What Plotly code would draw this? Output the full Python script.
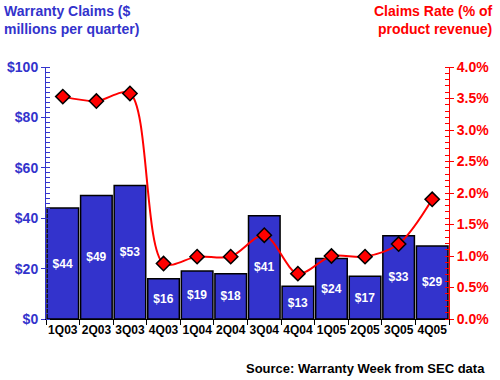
import plotly.graph_objects as go

quarters = ["1Q03", "2Q03", "3Q03", "4Q03", "1Q04", "2Q04", "3Q04", "4Q04", "1Q05", "2Q05", "3Q05", "4Q05"]
claims = [44, 49, 53, 16, 19, 18, 41, 13, 24, 17, 33, 29]
rate = [3.53, 3.46, 3.58, 0.88, 0.99, 0.99, 1.33, 0.72, 1.0, 0.99, 1.19, 1.90]

BLUE = "#3333cc"
RED = "#ff0000"
FONT = "Liberation Sans, Arial, sans-serif"

fig = go.Figure()
fig.add_trace(go.Bar(
    x=quarters, y=claims,
    marker=dict(color=BLUE, line=dict(color="black", width=1.5)),
    text=[f"${v}" for v in claims], textposition="inside", insidetextanchor="middle",
    textangle=0,
    textfont=dict(color="white", size=12, family=FONT, weight="bold"),
    yaxis="y", showlegend=False, hoverinfo="skip",
))
fig.add_trace(go.Scatter(
    x=quarters, y=rate, mode="lines+markers",
    line=dict(color=RED, width=2, shape="spline", smoothing=0.9),
    marker=dict(symbol="diamond", size=11, color=RED, line=dict(color="black", width=1.5)),
    yaxis="y2", showlegend=False, hoverinfo="skip", cliponaxis=False,
))

fig.update_layout(
    width=500, height=380,
    margin=dict(l=46, r=51, t=67, b=61),
    paper_bgcolor="white", plot_bgcolor="white",
    bargap=0.06,
    font=dict(family=FONT),
    xaxis=dict(
        automargin=False, tickangle=0, range=[-0.5, len(quarters) - 0.5],
        showgrid=False, showline=True, linecolor="black", linewidth=1,
        ticks="outside", tickson="boundaries", ticklen=5, tickcolor="black",
        tickfont=dict(size=12, color="black", family=FONT, weight="bold"),
    ),
    yaxis=dict(
        automargin=False,
        range=[0, 100], dtick=20, tickprefix="$",
        showgrid=False, zeroline=False, showline=True, linecolor=BLUE, linewidth=1,
        ticks="outside", ticklen=4, tickcolor=BLUE,
        minor=dict(dtick=2, ticks="inside", ticklen=4, tickcolor=BLUE),
        tickfont=dict(size=14, color=BLUE, family=FONT, weight="bold"),
    ),
    yaxis2=dict(
        automargin=False,
        range=[0, 4], dtick=0.5, tickformat=".1f", ticksuffix="%",
        overlaying="y", side="right",
        showgrid=False, zeroline=False, showline=True, linecolor=RED, linewidth=1,
        ticks="outside", ticklen=4, tickcolor=RED,
        minor=dict(dtick=0.1, ticks="inside", ticklen=4, tickcolor=RED),
        tickfont=dict(size=14, color=RED, family=FONT, weight="bold"),
    ),
    annotations=[
        dict(text="Warranty Claims ($<br>millions per quarter)", xref="paper", yref="paper",
             x=-44/403, y=1 + 66/252, xanchor="left", yanchor="top", align="left", showarrow=False,
             font=dict(size=14, color=BLUE, family=FONT, weight="bold")),
        dict(text="Claims Rate (% of<br>product revenue)", xref="paper", yref="paper",
             x=1 + 46/403, y=1 + 66/252, xanchor="right", yanchor="top", align="right", showarrow=False,
             font=dict(size=14, color=RED, family=FONT, weight="bold")),
        dict(text="Source: Warranty Week from SEC data", xref="paper", yref="paper",
             x=1 + 38/403, y=-49/252, xanchor="right", yanchor="middle", showarrow=False,
             font=dict(size=13, color="black", family=FONT, weight="bold")),
    ],
)

fig.write_html("out.html", config={"displayModeBar": False},
               post_script="document.body.style.margin='0';")
